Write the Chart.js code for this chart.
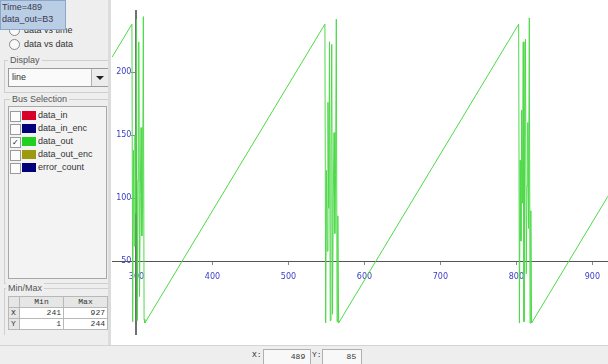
<!DOCTYPE html>
<html>

<head>
    <meta charset="utf-8" />
    <title>Bus Viewer</title>
    <script src="https://cdn.jsdelivr.net/npm/chart.js"></script>
    <style>
        body { margin: 0; width: 608px; height: 364px; background: #eeeeee; overflow: hidden; position: relative;
               font-family: "Liberation Sans", Arial, sans-serif; font-size: 9px; color: #333; }
        .abs { position: absolute; }
        .group { position: absolute; border: 1px solid #cfcfcf; }
        .gtitle { position: absolute; background: #eeeeee; padding: 0 2px; color: #555; font-size: 9px; line-height: 10px; }
        .radio { position: absolute; width: 9px; height: 9px; border: 1px solid #8a8a8a; border-radius: 50%; background: #fafafa; }
        .row { position: absolute; left: 1px; height: 11px; line-height: 11px; }
        .chk { position: absolute; left: 0; top: 1px; width: 9px; height: 9px; border: 1px solid #9a9a9a; background: #fcfcfc; font-size: 8px; line-height: 9px; text-align: center; color: #222; }
        .swatch { position: absolute; left: 12px; top: 1px; width: 14px; height: 9px; }
        .lbl { position: absolute; left: 28px; top: 0; white-space: nowrap; }
        table { border-collapse: collapse; font-family: "Liberation Mono", monospace; font-size: 8px; }
        td { border: 1px solid #b8b8b8; height: 10px; padding: 0 2px; line-height: 10px; }
    </style>
</head>

<body>
    <!-- left control panel -->
    <div class="radio" style="left:9px; top:25px;"></div>
    <div class="abs" style="left:24px; top:25px;">data vs time</div>
    <div class="radio" style="left:9px; top:39px;"></div>
    <div class="abs" style="left:24px; top:39px;">data vs data</div>

    <div class="group" style="left:4px; top:60px; width:104px; height:31px;"></div>
    <div class="gtitle" style="left:8px; top:55px;">Display</div>
    <div class="abs" style="left:8px; top:68px; width:99px; height:17px; border:1px solid #9a9a9a; background:#fafafa;">
        <div class="abs" style="left:3px; top:3px;">line</div>
        <div class="abs" style="left:82px; top:0; width:17px; height:17px; border-left:1px solid #b0b0b0; background:#ececec;">
            <div class="abs" style="left:4px; top:7px; width:0; height:0; border-left:4px solid transparent; border-right:4px solid transparent; border-top:4px solid #222;"></div>
        </div>
    </div>

    <div class="group" style="left:4px; top:99px; width:104px; height:183px;"></div>
    <div class="gtitle" style="left:10px; top:94px;">Bus Selection</div>
    <div class="abs" style="left:8px; top:106px; width:97px; height:171px; border:1px solid #a8a8a8; background:#f3f3f3;">
        <div class="row" style="top:3px;"><div class="chk"></div><div class="swatch" style="background:#d80028;"></div><div class="lbl">data_in</div></div>
        <div class="row" style="top:16px;"><div class="chk"></div><div class="swatch" style="background:#00007a;"></div><div class="lbl">data_in_enc</div></div>
        <div class="row" style="top:29px;"><div class="chk">&#10003;</div><div class="swatch" style="background:#22d022;"></div><div class="lbl">data_out</div></div>
        <div class="row" style="top:42px;"><div class="chk"></div><div class="swatch" style="background:#9c9a10;"></div><div class="lbl">data_out_enc</div></div>
        <div class="row" style="top:55px;"><div class="chk"></div><div class="swatch" style="background:#00007a;"></div><div class="lbl">error_count</div></div>
    </div>

    <div class="group" style="left:4px; top:288px; width:104px; height:46px; border-bottom:none;"></div>
    <div class="gtitle" style="left:6px; top:283px;">Min/Max</div>
    <table class="abs" style="left:8px; top:296px; width:100px; background:#fff;">
        <tr style="background:#e6e6e6;"><td style="width:6px;"></td><td style="text-align:center;">Min</td><td style="text-align:center;">Max</td></tr>
        <tr><td style="background:#e6e6e6;">X</td><td style="text-align:right;">241</td><td style="text-align:right;">927</td></tr>
        <tr><td style="background:#e6e6e6;">Y</td><td style="text-align:right;">1</td><td style="text-align:right;">244</td></tr>
    </table>

    <!-- hover readout -->
    <div class="abs" style="left:0; top:0; width:63px; height:28px; background:#b9cde4; border:1px solid #8aa6c8; color:#3a3a50; line-height:12px; padding-left:1px;">
        Time=489<br>data_out=B3
    </div>

    <!-- divider and chart panel -->
    <div class="abs" style="left:108px; top:0; width:3px; height:345px; background:#dcdcdc;"></div>
    <div class="abs" style="left:111px; top:0; width:497px; height:345px; background:#ffffff;"></div>
    <canvas id="busChart" width="496" height="345" style="position:absolute; left:112px; top:0;"></canvas>

    <!-- status bar -->
    <div class="abs" style="left:0; top:345px; width:608px; height:19px; border-top:1px solid #d4d4d4; background:#eeeeee;">
        <div class="abs" style="left:252px; top:4px; font-family:'Liberation Mono', monospace; font-size:8px;">X:</div>
        <div class="abs" style="left:263px; top:3px; width:46px; height:14px; border:1px solid #b0b0b0; background:#f8f8f8; font-family:'Liberation Mono', monospace; font-size:8px; line-height:14px; text-align:right;">489&nbsp;</div>
        <div class="abs" style="left:312px; top:4px; font-family:'Liberation Mono', monospace; font-size:8px;">Y:</div>
        <div class="abs" style="left:322px; top:3px; width:38px; height:14px; border:1px solid #b0b0b0; background:#f8f8f8; font-family:'Liberation Mono', monospace; font-size:8px; line-height:14px; text-align:right;">85&nbsp;</div>
    </div>

    <script type="text/javascript">

        // sample times and data_out bus values (counter ramps with glitch bursts)
        const times = [268, 294,
            295, 296, 297, 298, 299, 300, 301, 302, 303, 304, 305, 306, 307, 308, 309, 310, 311,
            548,
            549, 550, 551, 552, 553, 554, 555, 556, 557, 558, 559, 560, 561, 562, 563, 564, 565, 566,
            803,
            804, 805, 806, 807, 808, 809, 810, 811, 812, 813, 814, 815, 816, 817, 818, 819, 820,
            927];
        const dataOut = [212, 238,
            2, 138, 62, 150, 88, 242, 3, 114, 224, 22, 102, 156, 70, 92, 244, 4, 1,
            238,
            1, 122, 58, 176, 92, 224, 3, 140, 222, 8, 100, 152, 72, 118, 242, 2, 86, 1,
            238,
            1, 130, 66, 170, 96, 224, 2, 146, 226, 40, 110, 160, 76, 243, 1, 90, 1,
            108];

        // axis tick labels
        const xTicks = [300, 400, 500, 600, 700, 800, 900];
        const yTicks = [50, 100, 150, 200];

        const points = times.map((t, i) => ({ x: t, y: dataOut[i] }));

        const tickFont = { family: 'DejaVu Sans', size: 8 };

        const ctx = document.getElementById('busChart');
        new Chart(ctx, {
            type: 'line',
            data: {
                datasets: [{
                    label: 'data_out',
                    data: points,
                    borderColor: '#4fd94a',
                    borderWidth: 1,
                    pointRadius: 0,
                    tension: 0,
                    fill: false
                }]
            },
            options: {
                responsive: false,
                animation: false,
                layout: { padding: 0 },
                plugins: {
                    legend: { display: false },
                    tooltip: { enabled: false }
                },
                scales: {
                    x: {
                        type: 'linear',
                        min: 267.76,
                        max: 920.4,
                        position: { y: 50 },
                        afterBuildTicks: scale => { scale.ticks = xTicks.map(v => ({ value: v })); },
                        grid: { drawOnChartArea: false, tickLength: 3, color: '#888888' },
                        border: { color: '#555555', width: 1 },
                        ticks: { color: '#3b3bc4', font: tickFont, padding: 8, maxRotation: 0, autoSkip: false }
                    },
                    y: {
                        type: 'linear',
                        min: -7.85,
                        max: 248.6,
                        position: { x: 300 },
                        afterBuildTicks: scale => { scale.ticks = yTicks.map(v => ({ value: v })); },
                        grid: { drawOnChartArea: false, tickLength: 4, color: '#888888' },
                        border: { color: '#707070', width: 2 },
                        // labels of a value-positioned axis sit on the line, so pad them with spaces
                        ticks: { color: '#3b3bc4', font: tickFont, padding: 6, autoSkip: false, callback: v => v + '  ' }
                    }
                }
            }
        });

    </script>

</body>

</html>
